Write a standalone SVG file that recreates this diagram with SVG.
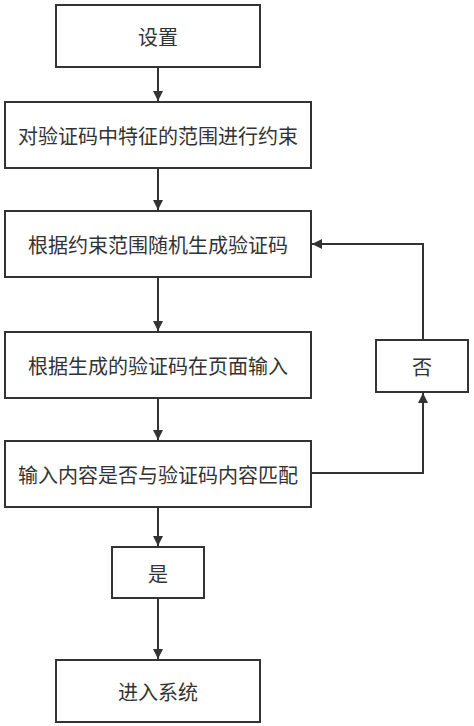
<svg xmlns="http://www.w3.org/2000/svg" width="474" height="726" viewBox="0 0 474 726">
<style>
.box{fill:#fff;stroke:#333;stroke-width:2}
.t{font-family:"Noto Sans CJK SC","Noto Sans",sans-serif;font-size:20px;fill:#333;text-anchor:middle;dominant-baseline:central}
.c{fill:none;stroke:#333;stroke-width:2}
</style>
<defs>
<marker id="ah" viewBox="0 0 10 10" refX="10" refY="5" markerWidth="10" markerHeight="11" markerUnits="userSpaceOnUse" orient="auto">
<path d="M0,0 L10,5 L0,10 Z" fill="#333"/>
</marker>
</defs>
<rect width="474" height="726" fill="#fff"/>
<g id="connectors">
<path class="c" d="M158,67 V101" marker-end="url(#ah)"/>
<path class="c" d="M158,168 V210" marker-end="url(#ah)"/>
<path class="c" d="M158,277 V331" marker-end="url(#ah)"/>
<path class="c" d="M158,398 V440" marker-end="url(#ah)"/>
<path class="c" d="M158,507 V546" marker-end="url(#ah)"/>
<path class="c" d="M158,598 V659" marker-end="url(#ah)"/>
<path class="c" d="M311,473 H423 V393" marker-end="url(#ah)"/>
<path class="c" d="M423,340 V244 H312" marker-end="url(#ah)"/>
</g>
<g id="n1"><rect class="box" x="56" y="5" width="204" height="62"/><text class="t" x="158" y="36">设置</text></g>
<g id="n2"><rect class="box" x="5" y="102" width="306" height="66"/><text class="t" x="158" y="135">对验证码中特征的范围进行约束</text></g>
<g id="n3"><rect class="box" x="5" y="211" width="306" height="66"/><text class="t" x="158" y="244">根据约束范围随机生成验证码</text></g>
<g id="n4"><rect class="box" x="5" y="332" width="306" height="66"/><text class="t" x="158" y="365">根据生成的验证码在页面输入</text></g>
<g id="n5"><rect class="box" x="5" y="441" width="306" height="66"/><text class="t" x="158" y="474">输入内容是否与验证码内容匹配</text></g>
<g id="n6"><rect class="box" x="376" y="340" width="92" height="52"/><text class="t" x="422" y="366">否</text></g>
<g id="n7"><rect class="box" x="112" y="547" width="92" height="51"/><text class="t" x="158" y="573">是</text></g>
<g id="n8"><rect class="box" x="56" y="660" width="204" height="62"/><text class="t" x="158" y="691">进入系统</text></g>
</svg>
